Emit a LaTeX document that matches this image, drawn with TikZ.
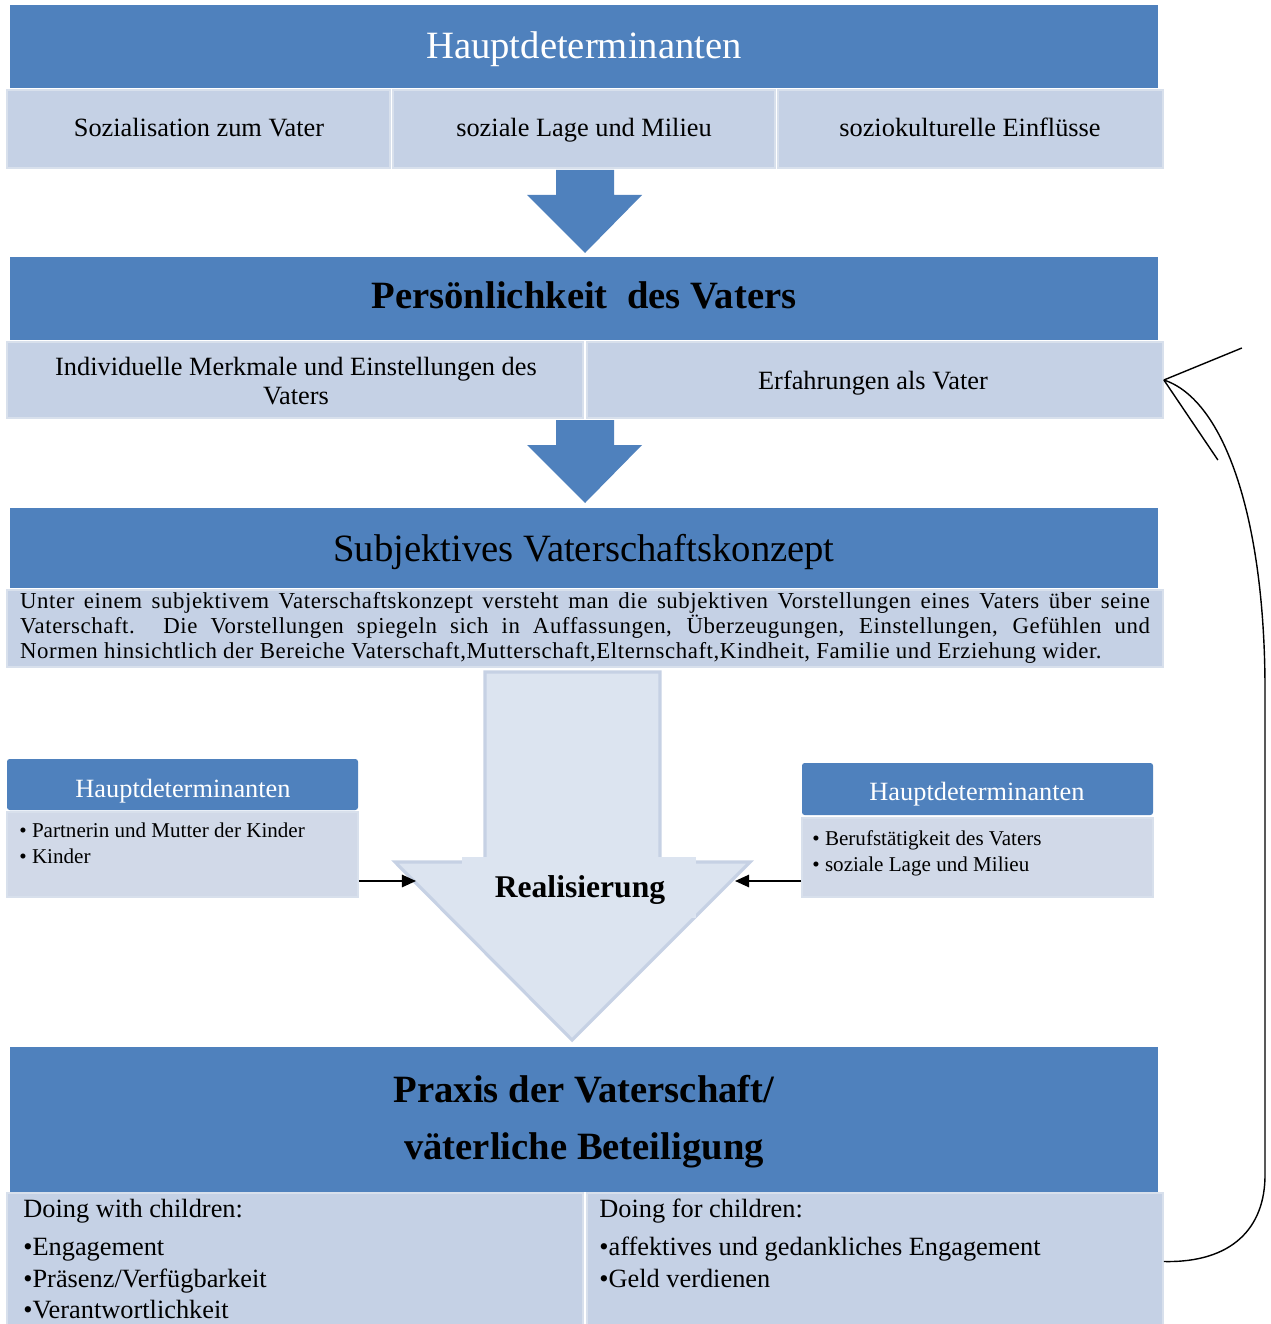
\documentclass[tikz,border=0pt]{standalone}
\usepackage{fontspec}
\setmainfont{Liberation Serif}
\usetikzlibrary{fit,arrows.meta,calc}
\definecolor{bandblue}{HTML}{4F81BD}
\definecolor{cellblue}{HTML}{C5D1E5}
\definecolor{cellline}{HTML}{D8E0EC}
\definecolor{sidebody}{HTML}{D1D9E8}
\definecolor{arrfill}{HTML}{DCE4F0}
\definecolor{arrline}{HTML}{C6D1E4}
\newcommand\fsz[2]{\fontsize{#1}{#2}\selectfont}
\begin{document}
\begin{tikzpicture}[x=0.02cm,y=-0.02cm,
  band/.style={fill=bandblue, draw=none, inner sep=0pt},
  cell/.style={fill=cellblue, draw=cellline, line width=1pt, inner sep=0pt},
  txt/.style={inner sep=0pt},
  oneline/.style={anchor=base},
  bigtitle/.style={txt, oneline, font=\fsz{22}{26}},
  celltext/.style={txt, font=\fsz{15}{16}},
  sidehead/.style={fill=bandblue, draw=none, inner sep=0pt, rounded corners=1.5pt},
  sidebox/.style={fill=sidebody, draw=cellline, line width=1pt, inner sep=0pt},
  sidetext/.style={font=\fsz{12}{14}, anchor=base west, inner sep=0pt},
  bottext/.style={font=\fsz{15}{17}, anchor=base west, inner sep=0pt},
  blockarrow/.style={fill=bandblue, draw=none},
  conn/.style={line width=1.1pt, -{Triangle[length=8pt,width=7pt]}},
  feedback/.style={line width=0.8pt}
]
\useasboundingbox (0,0) rectangle (1270,1324);

% ---------- Section 1 ----------
\node[band, fit={(10,5) (1158,88)}] (b1) {};
\node[bigtitle, text=white] (b1t) at (584,59) {Hauptdeterminanten};
\node[cell, fit={(7,90) (390,168)}] (c11) {};
\node[cell, fit={(393,90) (775,168)}] (c12) {};
\node[cell, fit={(778,90) (1163,168)}] (c13) {};
\node[celltext, oneline] (c11t) at (199,137) {Sozialisation zum Vater};
\node[celltext, oneline] (c12t) at (584,137) {soziale Lage und Milieu};
\node[celltext, oneline] (c13t) at (970,137) {soziokulturelle Einflüsse};

\fill[blockarrow] (556,170) -- (614,170) -- (614,195) -- (642,195) -- (585,253) -- (527,195) -- (556,195) -- cycle;

% ---------- Section 2 ----------
\node[band, fit={(10,257) (1158,340)}] (b2) {};
\node[bigtitle, font=\fsz{22}{26}\bfseries] (b2t) at (584,309) {Persönlichkeit\ \ des Vaters};
\node[cell, fit={(7,342) (583,418)}] (c21) {};
\node[cell, fit={(587,342) (1163,418)}] (c22) {};
\node[celltext, align=center, font=\fsz{15}{16.2}] (c21t) at (296,381) {Individuelle Merkmale und Einstellungen des\\Vaters};
\node[celltext, oneline] (c22t) at (873,389) {Erfahrungen als Vater};

\fill[blockarrow] (556,420) -- (614,420) -- (614,445) -- (642,445) -- (585,503) -- (527,445) -- (556,445) -- cycle;

% ---------- Section 3 ----------
\node[band, fit={(10,508) (1158,588)}] (b3) {};
\node[bigtitle] (b3t) at (584,561) {Subjektives Vaterschaftskonzept};
\node[cell, fit={(7,590) (1163,667)}] (c3) {};
\node[txt] (c3t) at (585,628) {\parbox{22.6cm}{\fsz{13}{14.2}\addfontfeature{LetterSpace=2.5}Unter einem subjektivem Vaterschaftskonzept versteht man die subjektiven Vorstellungen eines Vaters über seine\linebreak Vaterschaft. Die Vorstellungen spiegeln sich in Auffassungen, Überzeugungen, Einstellungen, Gefühlen und\linebreak Normen hinsichtlich der Bereiche Vaterschaft,Mutterschaft,Elternschaft,Kindheit, Familie und Erziehung wider.}};

% ---------- Realisierung arrow ----------
\filldraw[fill=arrfill, draw=arrline, line width=1.8pt, line join=miter]
  (485,672) -- (660,672) -- (660,862) -- (750,862) -- (572,1040) -- (395,862) -- (485,862) -- cycle;
\node[fill=arrfill, draw=none, inner sep=0pt, fit={(462,857) (696,918)}] (real) {};
\node[txt, oneline, font=\fsz{18}{20}\bfseries] (realt) at (580,897) {Realisierung};

% ---------- Side boxes ----------
\node[sidehead, fit={(7,759) (358,810)}] (lh) {};
\node[txt, oneline, text=white, font=\fsz{15}{17}] (lht) at (183,797) {Hauptdeterminanten};
\node[sidebox, fit={(7,812) (358,897)}] (lb) {};
\node[sidetext] (l1) at (19,837) {• Partnerin und Mutter der Kinder};
\node[sidetext] (l2) at (19,863) {• Kinder};

\node[sidehead, fit={(802,763) (1153,815)}] (rh) {};
\node[txt, oneline, text=white, font=\fsz{15}{17}] (rht) at (977,800) {Hauptdeterminanten};
\node[sidebox, fit={(802,818) (1153,897)}] (rb) {};
\node[sidetext] (r1) at (812,845) {• Berufstätigkeit des Vaters};
\node[sidetext] (r2) at (812,871) {• soziale Lage und Milieu};

\coordinate (la) at (416,881);
\coordinate (ra) at (735,881);
\draw[conn] (lb.east |- la) -- (la);
\draw[conn] (rb.west |- ra) -- (ra);

% ---------- Section 4 ----------
\node[band, fit={(10,1047) (1158,1192)}] (b4) {};
\node[txt, align=center, font=\fsz{22}{32.4}\bfseries] (b4t) at (584,1122) {Praxis der Vaterschaft/\\väterliche Beteiligung};
\node[cell, fit={(7,1193) (583,1330)}] (c41) {};
\node[cell, fit={(587,1193) (1163,1330)}] (c42) {};

\node[bottext] (d1) at (23,1217) {Doing with children:};
\node[bottext] (d2) at (23,1255) {•Engagement};
\node[bottext] (d3) at (23,1287) {•Präsenz/Verfügbarkeit};
\node[bottext] (d4) at (23,1318) {•Verantwortlichkeit};
\node[bottext] (e1) at (599,1217) {Doing for children:};
\node[bottext] (e2) at (599,1255) {•affektives und gedankliches Engagement};
\node[bottext] (e3) at (599,1287) {•Geld verdienen};

% ---------- Feedback arrow ----------
\coordinate (fbtop) at (1265,1175);
\draw[feedback] (c42.east) .. controls (1232,1263) and (1265,1228) .. (fbtop)
  -- (1265,690) .. controls (1265,520) and (1225,400) .. (c22.east);
\draw[feedback] (c22.east) -- ++(78,-32);
\draw[feedback] (c22.east) -- ++(54,80);
\end{tikzpicture}
\end{document}
